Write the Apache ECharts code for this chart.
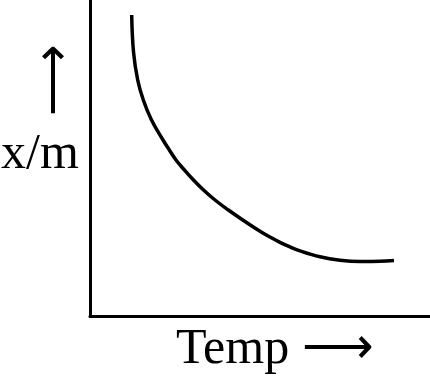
<!DOCTYPE html>
<html><head><meta charset="utf-8">
<script src="https://cdn.jsdelivr.net/npm/echarts@6/dist/echarts.min.js"></script>
<style>html,body{margin:0;padding:0;background:#fff}#c{width:430px;height:379px}</style>
</head><body><div id="c"></div>
<script>
var tempValues = [12.26, 12.80, 14.03, 15.68, 18.09, 21.47, 23.24, 25.29, 27.65, 30.29, 33.38, 36.76, 40.59, 44.71, 49.41, 52.65, 55.88, 58.82, 61.76, 67.65, 73.53, 79.41, 85.29, 89.41];
var xmValues   = [95.25, 83.50, 74.68, 68.35, 62.03, 55.70, 52.69, 49.37, 46.36, 43.20, 39.87, 36.71, 33.61, 30.54, 27.22, 25.13, 23.32, 21.87, 20.60, 18.73, 17.66, 17.25, 17.31, 17.53];
var xLabel = 'Temp ⟶';
var yLabel = 'x/m';
var arrowUp = '⟶';

var chart = echarts.init(document.getElementById('c'));
var pts = tempValues.map(function (t, i) { return [t, xmValues[i]]; });
var font = '50px "Liberation Serif", "Times New Roman", serif';
chart.setOption({
  animation: false,
  grid: { left: 90, right: 0, top: 0, bottom: 63 },
  xAxis: { type: 'value', min: 0, max: 100, axisLine: { lineStyle: { color: '#000', width: 3 } },
    axisTick: { show: false }, axisLabel: { show: false }, splitLine: { show: false } },
  yAxis: { type: 'value', min: 0, max: 100, axisLine: { show: true, lineStyle: { color: '#000', width: 3 } },
    axisTick: { show: false }, axisLabel: { show: false }, splitLine: { show: false } },
  series: [{ type: 'line', data: pts, smooth: 0.4, symbol: 'none',
    lineStyle: { color: '#000', width: 3.5 } }],
  graphic: [
    { type: 'text', x: 176, y: 350, style: { text: xLabel, font: font, fill: '#000', textAlign: 'left', textVerticalAlign: 'middle' } },
    { type: 'text', x: 1, y: 155, style: { text: yLabel, font: font, fill: '#000', textAlign: 'left', textVerticalAlign: 'middle' } },
    { type: 'text', x: 56, y: 80, rotation: Math.PI / 2, style: { text: arrowUp, font: font, fill: '#000', textAlign: 'center', textVerticalAlign: 'middle' } }
  ]
});
</script></body></html>
